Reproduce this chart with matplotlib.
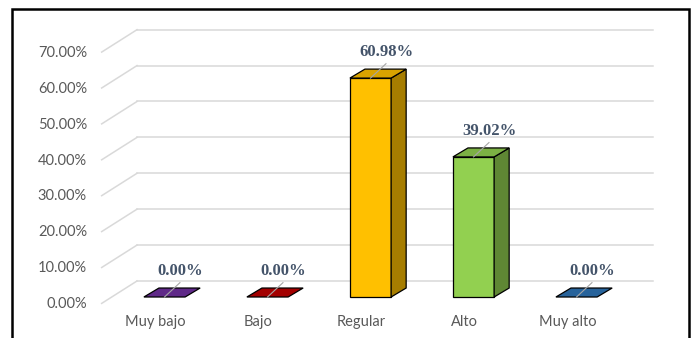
import matplotlib
matplotlib.use('Agg')
import matplotlib.pyplot as plt
from matplotlib.patches import Polygon, Rectangle
import matplotlib.colors as mcolors

categories = ['Muy bajo', 'Bajo', 'Regular', 'Alto', 'Muy alto']
values = [0.00, 0.00, 60.98, 39.02, 0.00]
value_labels = ['0.00%', '0.00%', '60.98%', '39.02%', '0.00%']
ticks = [0, 10, 20, 30, 40, 50, 60, 70]
tick_labels = ['0.00%', '10.00%', '20.00%', '30.00%', '40.00%', '50.00%', '60.00%', '70.00%']
bar_colors = ['#7030A0', '#C00000', '#FFC000', '#92D050', '#2E75B6']

def shade(c, f):
    r, g, b = mcolors.to_rgb(c)
    return (r * f, g * f, b * f)

fig = plt.figure(figsize=(6.92, 3.38), dpi=100)
ax = fig.add_axes([0, 0, 1, 1])
ax.set_xlim(-1.597, 5.121)
ax.set_ylim(-11.42, 82.73)
ax.axis('off')

# fake 3d walls
back_x0, back_x1, back_dy = -0.267, 4.74, 4.46
side_x, side_dy = -0.61, -1.78
for t in ticks:
    ax.plot([back_x0, back_x1], [t + back_dy, t + back_dy], color='#D9D9D9', lw=1.1, zorder=1)
    ax.plot([side_x, back_x0], [t + side_dy, t + back_dy], color='#D9D9D9', lw=1.1, zorder=1)
for t, lab in zip(ticks, tick_labels):
    ax.text(-0.752, t - 2.0, lab, ha='right', va='center', fontsize=10.5,
            family='Lato', color='#595959')

# bars
w = 0.2
dx, dy = 0.146, 2.5
for i, (v, c) in enumerate(zip(values, bar_colors)):
    front = [(i - w, 0), (i + w, 0), (i + w, v), (i - w, v)]
    side = [(i + w, 0), (i + w + dx, dy), (i + w + dx, v + dy), (i + w, v)]
    top = [(i - w, v), (i + w, v), (i + w + dx, v + dy), (i - w + dx, v + dy)]
    if v > 0:
        ax.add_patch(Polygon(front, closed=True, fc=c, ec='black', lw=0.9, zorder=3))
        ax.add_patch(Polygon(side, closed=True, fc=shade(c, 0.65), ec='black', lw=0.9, zorder=3))
        ax.add_patch(Polygon(top, closed=True, fc=shade(c, 0.85), ec='black', lw=0.9, zorder=3))
    else:
        ax.add_patch(Polygon(top, closed=True, fc=shade(c, 0.85), ec='black', lw=0.9, zorder=3))
    # leader line + data label
    ax.plot([i, i + 0.15], [v, v + 4.0], color='#A6A6A6', lw=0.8, zorder=4)
    ax.text(i + 0.155, v + 7.2, value_labels[i], ha='center', va='center', fontsize=12,
            family='Liberation Serif', fontweight='bold', color='#44546A', zorder=5)

for i, cat in enumerate(categories):
    ax.text(i - 0.087, -6.96, cat, ha='center', va='center', fontsize=10.5,
            family='Lato', color='#595959')

# outer frame
fig.patches.append(Rectangle((12 / 692, -0.1), (689 - 12) / 692, 1.1 - 9 / 338,
                             transform=fig.transFigure, fill=False, ec='black', lw=1.8))

fig.savefig('out.png', dpi=100)
